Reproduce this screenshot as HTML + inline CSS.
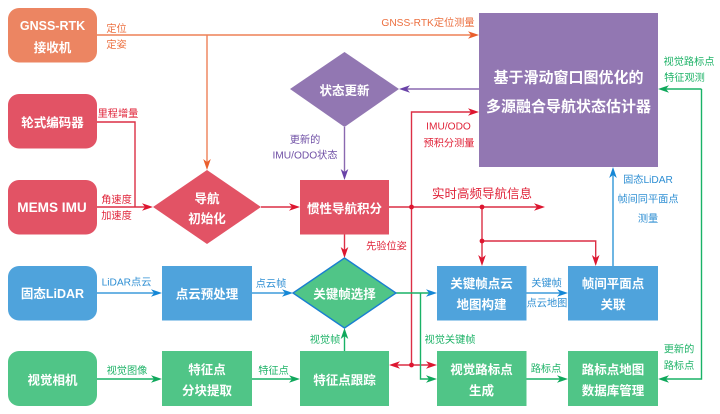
<!DOCTYPE html>
<html><head><meta charset="utf-8">
<style>
html,body{margin:0;padding:0;background:#fff;width:720px;height:414px;overflow:hidden}
svg{display:block}
text{font-family:"Liberation Sans","Noto Sans CJK SC",sans-serif;text-anchor:middle}
.n{fill:#fff;font-weight:700;font-size:12.5px}
.l{font-size:10.2px}
.o{fill:#ec6f3f}.r{fill:#e0243a}.p{fill:#6f4fa5}.b{fill:#2f8fd3}.g{fill:#1fb368}
</style></head><body>
<svg width="720" height="414" viewBox="0 0 720 414" xmlns="http://www.w3.org/2000/svg">
<defs>
<g id="ah"><path d="M0,0 L-11,-3.8 L-8,0 L-11,3.8 Z"/></g>
</defs>

<!-- connector lines -->
<g fill="none" stroke-width="1.4">
<path d="M97 35H472M207 35V162" stroke="#ee8157"/>
<path d="M97 122H135V207M97 207H145" stroke="#dc2f45"/>
<path d="M261 207H293M389 207H538M344.5 234V252M411.5 365V112H472M395 365H431M482 207V260M482 241H595.7V260" stroke="#dc2f45"/>
<path d="M479 89H406M344.5 127V174" stroke="#8a69b0"/>
<path d="M613 266V172" stroke="#4aa3dc" stroke-width="1.6"/>
<path d="M97 293H156M252 293H288M526 293H562" stroke="#3d9bdc"/>
<path d="M396 293H431" stroke="#19b267"/>
<path d="M420.5 293V379H431" stroke="#19b267"/>
<path d="M97 379H156M252 379H294M526 379H562M344.5 351V334M701.5 89V379H664M701.5 89H664" stroke="#19b267"/>
</g>

<!-- arrowheads -->
<g fill="#ea5f2d">
<use href="#ah" transform="translate(479,35)"/>
<use href="#ah" transform="translate(207,170) rotate(90)"/>
</g>
<g fill="#dd1630">
<use href="#ah" transform="translate(153,207)"/>
<use href="#ah" transform="translate(300,207)"/>
<use href="#ah" transform="translate(545,207)"/>
<use href="#ah" transform="translate(344.5,258) rotate(90)"/>
<use href="#ah" transform="translate(479,112)"/>
<use href="#ah" transform="translate(437,365)"/>
<use href="#ah" transform="translate(389,365) rotate(180)"/>
<use href="#ah" transform="translate(482,266) rotate(90)"/>
<use href="#ah" transform="translate(595.7,266) rotate(90)"/>
<circle cx="411.5" cy="207" r="2.4"/>
<circle cx="482" cy="207" r="2.4"/>
<circle cx="482" cy="241" r="2.4"/>
<circle cx="411.5" cy="365" r="2.4"/>
</g>
<g fill="#6a43a8">
<use href="#ah" transform="translate(399,89) rotate(180)"/>
<use href="#ah" transform="translate(344.5,180) rotate(90)"/>
</g>
<g fill="#1587d6">
<use href="#ah" transform="translate(613,167) rotate(-90)"/>
<use href="#ah" transform="translate(162,293)"/>
<use href="#ah" transform="translate(293,293)"/>
<use href="#ah" transform="translate(437,293)"/>
<use href="#ah" transform="translate(568,293)"/>
</g>
<g fill="#10a85c">
<use href="#ah" transform="translate(162,379)"/>
<use href="#ah" transform="translate(300,379)"/>
<use href="#ah" transform="translate(437,379)"/>
<use href="#ah" transform="translate(568,379)"/>
<use href="#ah" transform="translate(344.5,328) rotate(-90)"/>
<use href="#ah" transform="translate(658,89) rotate(180)"/>
<use href="#ah" transform="translate(658,379) rotate(180)"/>
</g>

<!-- nodes -->
<rect x="8" y="8" width="89" height="54.5" rx="11" fill="#ec8562"/>
<rect x="8" y="94" width="89" height="54.5" rx="11" fill="#e25365"/>
<rect x="8" y="180" width="89" height="54.5" rx="11" fill="#e25365"/>
<rect x="8" y="266" width="89" height="54.5" rx="11" fill="#4fa3dc"/>
<rect x="8" y="351" width="89" height="55" rx="11" fill="#50c587"/>
<polygon points="207,170 261,207 207,244 153,207" fill="#e25365"/>
<polygon points="344.5,52 399,89 344.5,127 290,89" fill="#9277b2"/>
<rect x="300" y="180" width="89" height="54.5" fill="#e25365"/>
<polygon points="344.5,258 396,293 344.5,328 293,293" fill="#50c587" stroke="#1a7fd0" stroke-width="1.4"/>
<rect x="162" y="266" width="90" height="54.5" fill="#4fa3dc"/>
<rect x="162" y="351" width="90" height="55" fill="#50c587"/>
<rect x="300" y="351" width="89" height="55" fill="#50c587"/>
<rect x="437" y="266" width="89.5" height="54.5" fill="#4fa3dc"/>
<rect x="568" y="266" width="90" height="54.5" fill="#4fa3dc"/>
<rect x="437" y="351" width="89.5" height="55" fill="#50c587"/>
<rect x="568" y="351" width="90" height="55" fill="#50c587"/>
<rect x="479" y="13" width="179" height="154" fill="#9277b2"/>

<!-- node labels -->
<g class="n">
<text x="52.5" y="30">GNSS-RTK</text>
<text x="52.5" y="52">接收机</text>
<text x="52.5" y="127">轮式编码器</text>
<text x="52" y="212" font-size="13.6">MEMS IMU</text>
<text x="52.5" y="298">固态LiDAR</text>
<text x="52.5" y="384.5">视觉相机</text>
<text x="207" y="203">导航</text>
<text x="207" y="223">初始化</text>
<text x="344.5" y="95">状态更新</text>
<text x="344.5" y="213">惯性导航积分</text>
<text x="344.5" y="298.5">关键帧选择</text>
<text x="207" y="298.5">点云预处理</text>
<text x="207" y="374">特征点</text>
<text x="207" y="395">分块提取</text>
<text x="344.5" y="384.5">特征点跟踪</text>
<text x="481.5" y="288">关键帧点云</text>
<text x="481.5" y="309">地图构建</text>
<text x="613" y="288">帧间平面点</text>
<text x="613" y="309">关联</text>
<text x="481.5" y="374">视觉路标点</text>
<text x="481.5" y="395">生成</text>
<text x="613" y="374">路标点地图</text>
<text x="613" y="395">数据库管理</text>
<text x="568.5" y="82.500" style="font-size:15px">基于滑动窗口图优化的</text>
<text x="568.5" y="111.500" style="font-size:15px">多源融合导航状态估计器</text>
</g>

<!-- connector labels -->
<g class="l">
<g class="o">
<text x="116.5" y="32">定位</text>
<text x="116.5" y="48">定姿</text>
<text x="428" y="26">GNSS-RTK定位测量</text>
</g>
<g class="r">
<text x="118" y="117">里程增量</text>
<text x="116.5" y="203">角速度</text>
<text x="116.5" y="219">加速度</text>
<text x="386.5" y="249.5">先验位姿</text>
<text x="448.5" y="129.5">IMU/ODO</text>
<text x="449" y="146.5">预积分测量</text>
<text x="482" y="198" style="font-size:12.5px">实时高频导航信息</text>
</g>
<g class="p">
<text x="305" y="143">更新的</text>
<text x="305" y="158.5">IMU/ODO状态</text>
</g>
<g class="b">
<text x="126.5" y="285.5">LiDAR点云</text>
<text x="271" y="287">点云帧</text>
<text x="546.5" y="286.5">关键帧</text>
<text x="547" y="306.5">点云地图</text>
<text x="648" y="183">固态LiDAR</text>
<text x="648" y="202.5">帧间同平面点</text>
<text x="648" y="222">测量</text>
</g>
<g class="g">
<text x="127" y="374">视觉图像</text>
<text x="273.5" y="374">特征点</text>
<text x="325" y="343">视觉帧</text>
<text x="450" y="343">视觉关键帧</text>
<text x="546" y="372">路标点</text>
<text x="679" y="352.5">更新的</text>
<text x="679" y="369">路标点</text>
<text x="689" y="65">视觉路标点</text>
<text x="684.5" y="81">特征观测</text>
</g>
</g>
</svg>
</body></html>
